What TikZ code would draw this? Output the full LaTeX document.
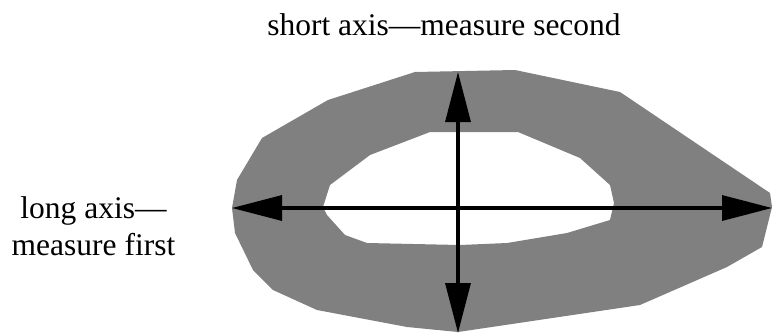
\documentclass[tikz,border=0pt]{standalone}
\usepackage{fontspec}
\setmainfont{Liberation Serif}
\usepackage{xcolor}
\usetikzlibrary{arrows.meta}
\definecolor{ringgray}{RGB}{128,128,128}

\begin{document}
\begin{tikzpicture}[x=1pt,y=1pt,yscale=-1,xscale=1,
    axisline/.style={line width=3.3pt,{Triangle[length=50pt,width=25pt]}-{Triangle[length=50pt,width=25pt]}},
    lbl/.style={anchor=base,inner sep=0pt,font=\fontsize{31.5}{37}\selectfont}]
\useasboundingbox (0,0) rectangle (772,333);
%Shape: Polygon (ring with hole)
\fill [ringgray,even odd rule] (415,72) -- (515,70) -- (620,92) -- (770,193) -- (772,207) -- (762,247) -- (727,267) -- (640,305) -- (458,332) -- (407,327) -- (317,310) -- (273,290) -- (253,270) -- (235,233) -- (232,208) -- (237,180) -- (262,138) -- (328,100) -- cycle
    (430,132) -- (518,132) -- (580,158) -- (610,185) -- (614,203) -- (610,220) -- (567,233) -- (507,243) -- (460,245) -- (367,243) -- (345,235) -- (327,215) -- (323,207) -- (330,185) -- (370,155) -- cycle ;
%Axis ends
\coordinate (longL) at (232,208);
\coordinate (longR) at (772,208);
\coordinate (shortT) at (458,72);
\coordinate (shortB) at (458,333);
%Straight Lines
\draw [axisline] (longL) -- (longR) ;
%Straight Lines
\draw [axisline] (shortT) -- (shortB) ;

% Text Node
\node [lbl] (shortlbl) at (444,35) {short axis---measure second};
% Text Node
\node [lbl] (longlbl) at (93.5,218) {long axis---};
% Text Node
\node [lbl] (firstlbl) at (93.5,255) {measure first};
\end{tikzpicture}
\end{document}
